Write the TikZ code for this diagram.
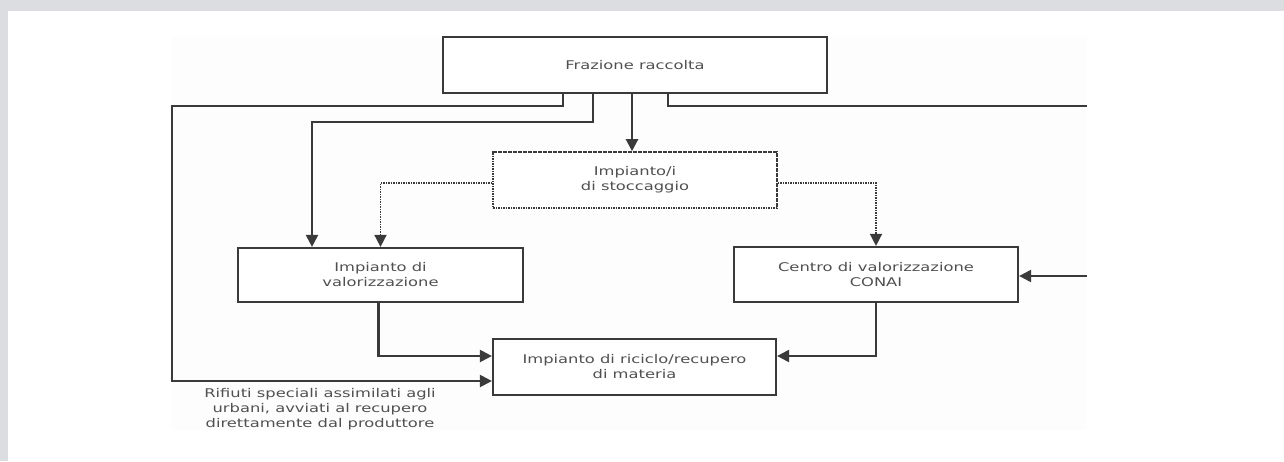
\documentclass[tikz,border=0pt]{standalone}
\usepackage{fontspec}
\newfontfamily\djs[FakeStretch=1.36]{DejaVu Sans}
\usetikzlibrary{arrows.meta}
\definecolor{framegray}{HTML}{DCDDE0}
\definecolor{imgwhite}{HTML}{FDFDFD}
\definecolor{linegray}{HTML}{3A3A3A}
\definecolor{txtgray}{HTML}{505050}
\tikzset{
  box/.style={draw=linegray, line width=2.2pt, fill=white, align=center,
    font=\djs\fontsize{12}{15}\selectfont, text=txtgray, inner sep=0pt},
  dotbox/.style={box, line width=1.6pt, dash pattern=on 1.6pt off 0.9pt},
  conn/.style={draw=linegray, line width=2.2pt},
  dconn/.style={draw=linegray, line width=1.6pt, dash pattern=on 1.6pt off 0.9pt},
  tip/.style={-{Triangle[length=12pt,width=12pt]}},
  lab/.style={align=center, font=\djs\fontsize{12}{15}\selectfont, text=txtgray, inner sep=0pt}
}
\begin{document}
\begin{tikzpicture}[x=1pt,y=-1pt]
\useasboundingbox (0,0) rectangle (1284,461);
\fill[framegray] (0,0) rectangle (1284,461);
\fill[white] (8,11) rectangle (1284,461);
\fill[imgwhite] (171,36) rectangle (1087,430);

\node[box, minimum width=384pt, minimum height=56pt] (fraz) at (635,65) {Frazione raccolta};
\node[dotbox, minimum width=284pt, minimum height=56pt] (stocc) at (635,180) {Impianto/i\\di stoccaggio};
\node[box, minimum width=285pt, minimum height=54pt] (valor) at (380.5,275) {Impianto di\\valorizzazione};
\node[box, minimum width=284pt, minimum height=55pt] (centro) at (876,274.5) {Centro di valorizzazione\\CONAI};
\node[box, minimum width=283pt, minimum height=56pt] (ricic) at (634.5,367) {Impianto di riciclo/recupero\\di materia};

\node[lab] (note) at (320,409) {Rifiuti speciali assimilati agli\\urbani, avviati al recupero\\direttamente dal produttore};

\coordinate (l1) at (172,106);
\coordinate (b2) at (312,122);
\coordinate (r1) at (1087,106);
\coordinate (r2) at (1087,276);

% Frazione -> riciclo (left loop)
\draw[conn, tip] ([xshift=-72pt]fraz.south) |- (l1) |- ([yshift=-14pt]ricic.west);
% Frazione -> valorizzazione
\draw[conn, tip] ([xshift=-42pt]fraz.south) |- (b2) -- (b2 |- valor.north);
% Frazione -> stoccaggio
\draw[conn, tip] ([xshift=-3pt]fraz.south) -- ([xshift=-3pt]stocc.north);
% Frazione -> right (off)
\draw[conn] ([xshift=33pt]fraz.south) |- (r1);
% stoccaggio -> valorizzazione / centro
\draw[dconn, tip] ([yshift=-3pt]stocc.west) -| (valor.north);
\draw[dconn, tip] ([yshift=-3pt]stocc.east) -| (centro.north);
% valorizzazione / centro -> riciclo
\draw[conn, tip] ([xshift=-2pt]valor.south) |- ([yshift=11pt]ricic.west);
\draw[conn, tip] (centro.south) |- ([yshift=11pt]ricic.east);
% external -> centro
\draw[conn, tip] (r2) -- (r2 -| centro.east);
\end{tikzpicture}
\end{document}
